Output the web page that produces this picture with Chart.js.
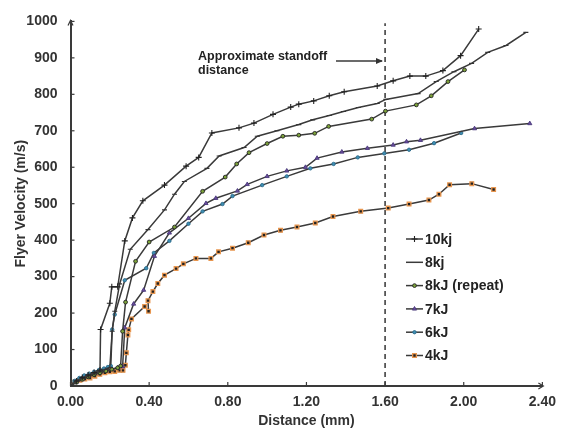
<!DOCTYPE html>
<html>
<head>
<meta charset="utf-8">
<script src="https://cdn.jsdelivr.net/npm/chart.js@4"></script>
<style>
  html, body { margin: 0; padding: 0; background: #fff; }
  #wrap { width: 564px; height: 430px; }
</style>
</head>
<body>
<div id="wrap"><canvas id="flyerChart" width="564" height="430"></canvas></div>
<script>
// values (distance in mm, velocity in m/s)
const dist10 = [0, 0.03, 0.06, 0.09, 0.12, 0.15, 0.153, 0.2, 0.21, 0.24, 0.276, 0.315, 0.368, 0.478, 0.588, 0.652, 0.719, 0.857, 0.933, 1.03, 1.12, 1.161, 1.237, 1.316, 1.392, 1.56, 1.641, 1.726, 1.807, 1.894, 1.984, 2.076];
const vel10 = [0, 14, 23, 30, 37, 44, 155, 227, 272, 272, 398, 461, 508, 551, 603, 627, 694, 708, 721, 745, 765, 773, 782, 796, 807, 823, 837, 850, 850, 865, 906, 979];

const dist8 = [0, 0.03, 0.06, 0.09, 0.12, 0.15, 0.18, 0.2, 0.212, 0.225, 0.25, 0.304, 0.394, 0.478, 0.529, 0.579, 0.694, 0.756, 0.883, 0.95, 1.05, 1.161, 1.232, 1.316, 1.388, 1.464, 1.56, 1.604, 1.768, 1.86, 1.95, 2.04, 2.122, 2.215, 2.316];
const vel8 = [0, 12, 21, 28, 34, 40, 46, 50, 150, 205, 280, 375, 429, 483, 526, 561, 597, 631, 654, 685, 700, 717, 730, 742, 753, 764, 775, 786, 802, 835, 862, 885, 915, 934, 970];

const dist8r = [0, 0.03, 0.06, 0.09, 0.12, 0.15, 0.18, 0.21, 0.24, 0.255, 0.265, 0.28, 0.331, 0.4, 0.529, 0.672, 0.787, 0.845, 0.908, 1.0, 1.08, 1.161, 1.242, 1.313, 1.532, 1.602, 1.759, 1.835, 1.92, 2.004];
const vel8r = [0, 10, 18, 25, 31, 36, 41, 46, 50, 55, 150, 230, 342, 395, 436, 534, 573, 609, 640, 665, 685, 688, 693, 712, 732, 754, 771, 796, 835, 867];

const dist7 = [0, 0.03, 0.06, 0.09, 0.12, 0.15, 0.18, 0.21, 0.24, 0.265, 0.276, 0.321, 0.372, 0.427, 0.503, 0.6, 0.689, 0.739, 0.849, 0.899, 1.0, 1.1, 1.195, 1.254, 1.38, 1.51, 1.641, 1.709, 1.78, 2.055, 2.336];
const vel7 = [0, 11, 19, 26, 32, 37, 42, 46, 50, 53, 160, 225, 263, 356, 420, 460, 501, 515, 535, 553, 575, 590, 600, 625, 642, 652, 661, 670, 674, 706, 720];

const dist6 = [0, 0.02, 0.045, 0.07, 0.095, 0.12, 0.145, 0.17, 0.19, 0.205, 0.212, 0.225, 0.276, 0.385, 0.424, 0.503, 0.6, 0.672, 0.773, 0.824, 0.975, 1.1, 1.22, 1.338, 1.461, 1.596, 1.722, 1.849, 1.987];
const vel6 = [0, 14, 22, 29, 34, 39, 44, 48, 52, 55, 155, 196, 290, 323, 365, 398, 445, 479, 499, 521, 551, 575, 597, 609, 627, 638, 648, 666, 694];

const dist4 = [0, 0.023, 0.048, 0.073, 0.099, 0.124, 0.149, 0.175, 0.2, 0.225, 0.25, 0.267, 0.279, 0.284, 0.292, 0.296, 0.31, 0.377, 0.397, 0.394, 0.419, 0.444, 0.478, 0.537, 0.574, 0.638, 0.714, 0.753, 0.824, 0.904, 0.984, 1.068, 1.152, 1.245, 1.335, 1.476, 1.616, 1.722, 1.823, 1.874, 1.928, 2.041, 2.152];
const vel4 = [0, 12, 16, 19, 22, 27, 32, 36, 39, 40, 43, 43, 57, 91, 140, 154, 184, 218, 205, 234, 259, 281, 304, 322, 335, 350, 350, 368, 378, 393, 414, 427, 436, 447, 465, 479, 488, 499, 510, 526, 552, 555, 539];

const standoffX = [1.6, 1.6];
const standoffY = [0, 995];

const seriesNames = ["10kj", "8kj", "8kJ (repeat)", "7kJ", "6kJ", "4kJ"];
const xTicks = [0, 0.4, 0.8, 1.2, 1.6, 2.0, 2.4];
const yTicks = [0, 100, 200, 300, 400, 500, 600, 700, 800, 900, 1000];

const lineColor = "#3a3a3a";
const textColor = "#333";
const boldFont = { family: "'Liberation Sans', Arial, sans-serif", size: 14, weight: "bold" };

const pts = (xs, ys) => xs.map((x, i) => ({ x: x, y: ys[i] }));

const series = (label, xs, ys, style) => Object.assign({
  label: label,
  data: pts(xs, ys),
  borderColor: lineColor,
  borderWidth: 1.5,
  tension: 0,
  fill: false
}, style);

const datasets = [
  series(seriesNames[0], dist10, vel10, { pointStyle: "cross", pointRadius: 3, pointBorderColor: "#222", pointBorderWidth: 1.1 }),
  series(seriesNames[1], dist8, vel8, { pointStyle: "line", pointRadius: 2.5, pointBorderColor: "#333", pointBorderWidth: 1.1 }),
  series(seriesNames[2], dist8r, vel8r, { pointStyle: "circle", pointRadius: 1.9, pointBackgroundColor: "#7da33a", pointBorderColor: "#222", pointBorderWidth: 0.9 }),
  series(seriesNames[3], dist7, vel7, { pointStyle: "triangle", pointRadius: 2.4, pointBackgroundColor: "#6b4c9e", pointBorderColor: "#4a3a7a", pointBorderWidth: 0.9 }),
  series(seriesNames[4], dist6, vel6, { pointStyle: "circle", pointRadius: 1.7, pointBackgroundColor: "#3f8fb3", pointBorderColor: "#2a6a8a", pointBorderWidth: 0.9 }),
  series(seriesNames[5], dist4, vel4, { pointStyle: "rect", pointRadius: 2.6, pointBackgroundColor: "#222", pointBorderColor: "#e8964f", pointBorderWidth: 1.3 }),
  {
    label: "standoff",
    data: pts(standoffX, standoffY),
    borderColor: "#333",
    borderWidth: 1.5,
    borderDash: [5, 4],
    pointRadius: 0,
    tension: 0
  }
];

// legend, inside ticks, arrow heads and the standoff note
const extras = {
  id: "extras",
  afterDraw(chart) {
    const ctx = chart.ctx;
    const xs = chart.scales.x;
    const ys = chart.scales.y;
    const left = xs.getPixelForValue(0);
    const bottom = ys.getPixelForValue(0);
    const right = xs.getPixelForValue(2.4);
    const top = ys.getPixelForValue(1000);

    ctx.save();
    ctx.strokeStyle = lineColor;
    ctx.lineWidth = 1.2;
    yTicks.forEach(v => {
      const py = ys.getPixelForValue(v);
      ctx.beginPath(); ctx.moveTo(left, py); ctx.lineTo(left + 4, py); ctx.stroke();
    });
    xTicks.forEach(v => {
      const px = xs.getPixelForValue(v);
      ctx.beginPath(); ctx.moveTo(px, bottom); ctx.lineTo(px, bottom - 4); ctx.stroke();
    });
    // little arrow tips at the axis ends
    ctx.beginPath();
    ctx.moveTo(left - 2.5, top + 4); ctx.lineTo(left, top - 1); ctx.lineTo(left + 2.5, top + 4);
    ctx.moveTo(right - 4, bottom - 3); ctx.lineTo(right + 1, bottom); ctx.lineTo(right - 4, bottom + 3);
    ctx.stroke();

    // note and arrow
    ctx.fillStyle = "#222";
    ctx.font = "bold 12.5px 'Liberation Sans', Arial, sans-serif";
    ctx.textBaseline = "middle";
    ctx.textAlign = "left";
    ctx.fillText("Approximate standoff", 198, 57);
    ctx.fillText("distance", 198, 71);
    ctx.lineWidth = 1.3;
    ctx.beginPath(); ctx.moveTo(336, 61); ctx.lineTo(382, 61); ctx.stroke();
    ctx.beginPath(); ctx.moveTo(376, 58); ctx.lineTo(383, 61); ctx.lineTo(376, 64); ctx.closePath();
    ctx.fillStyle = "#333"; ctx.fill();

    // legend
    ctx.font = "bold 14px 'Liberation Sans', Arial, sans-serif";
    seriesNames.forEach((name, i) => {
      const ds = chart.data.datasets[i];
      const ly = 239 + i * 23.3;
      ctx.strokeStyle = lineColor;
      ctx.lineWidth = 1.5;
      ctx.setLineDash([]);
      ctx.beginPath(); ctx.moveTo(406, ly); ctx.lineTo(423, ly); ctx.stroke();
      if (i !== 1) {
        ctx.fillStyle = ds.pointBackgroundColor || "#222";
        ctx.strokeStyle = ds.pointBorderColor;
        ctx.lineWidth = ds.pointBorderWidth;
        Chart.helpers.drawPoint(ctx, { pointStyle: ds.pointStyle, radius: ds.pointRadius, borderWidth: ds.pointBorderWidth, rotation: 0 }, 414.5, ly);
      }
      ctx.fillStyle = "#222";
      ctx.fillText(name, 425, ly + 1);
    });
    ctx.restore();
  }
};

new Chart(document.getElementById("flyerChart"), {
  type: "line",
  data: { datasets: datasets },
  plugins: [extras],
  options: {
    responsive: false,
    animation: false,
    layout: { padding: { top: 15, right: 19, bottom: 0, left: 0 } },
    plugins: { legend: { display: false }, tooltip: { enabled: false } },
    scales: {
      x: {
        type: "linear",
        min: 0,
        max: 2.4,
        afterBuildTicks: (scale) => { scale.ticks = xTicks.map(v => ({ value: v })); },
        afterFit: (scale) => { scale.height = 44; },
        grid: { display: false, drawTicks: false },
        border: { display: true, color: lineColor, width: 2 },
        ticks: { color: textColor, font: boldFont, padding: 8, maxRotation: 0, callback: (v) => v.toFixed(2) },
        title: { display: true, text: "Distance (mm)", color: textColor, font: boldFont, padding: { top: 0, bottom: 0 } }
      },
      y: {
        min: 0,
        max: 1000,
        afterBuildTicks: (scale) => { scale.ticks = yTicks.map(v => ({ value: v })); },
        afterFit: (scale) => { scale.width = 70.5; },
        grid: { display: false, drawTicks: false },
        border: { display: true, color: lineColor, width: 2 },
        ticks: { color: textColor, font: boldFont, padding: 13, callback: (v) => String(v) },
        title: { display: true, text: "Flyer Velocity (m/s)", color: textColor, font: boldFont, padding: { top: 13, bottom: 0 } }
      }
    }
  }
});
</script>
</body>
</html>
